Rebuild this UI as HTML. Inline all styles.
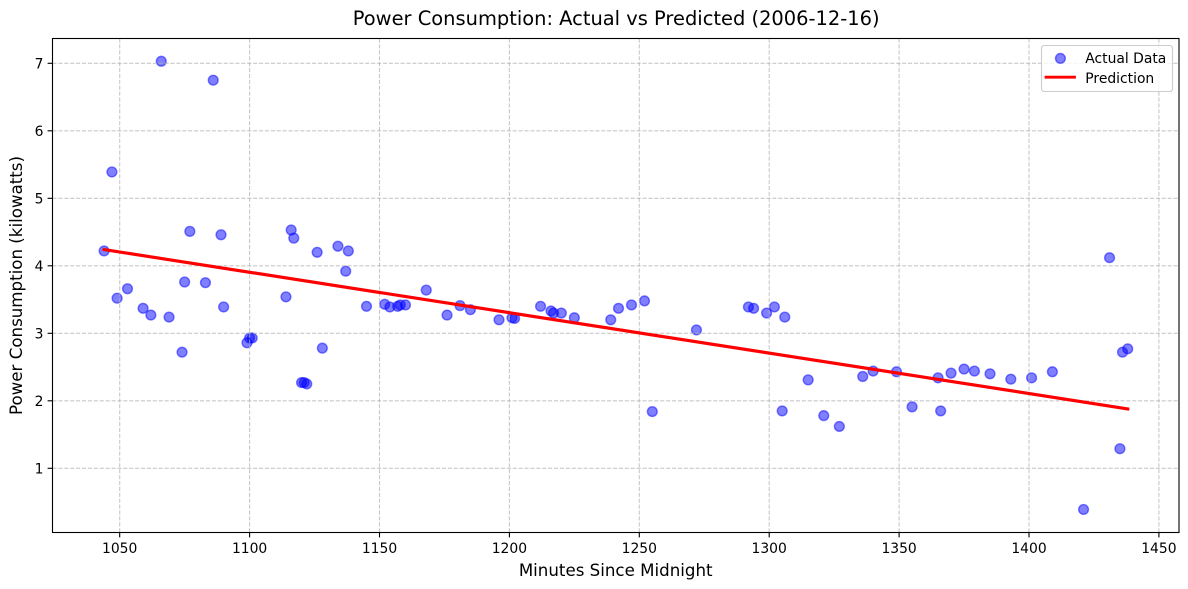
<!DOCTYPE html>
<html>
<head>
<meta charset="utf-8">
<title>Power Consumption: Actual vs Predicted</title>
<style>
html,body{margin:0;padding:0;background:#fff;width:1188px;height:589px;overflow:hidden}
svg{display:block}
text{font-family:"DejaVu Sans","Liberation Sans",sans-serif;fill:#000}
</style>
</head>
<body>
<svg id="chart" xmlns="http://www.w3.org/2000/svg" width="1188" height="589" viewBox="0 0 1188 589"></svg>
<script>
const actualMinutes = [1044,1047,1049,1053,1059,1062,1066,1069,1074,1075,1077,1083,1086,1089,1090,1099,1100,1101,1114,1116,1117,1120,1121,1122,1126,1128,1134,1137,1138,1145,1152,1154,1157,1158,1160,1168,1176,1181,1185,1196,1201,1202,1212,1216,1217,1220,1225,1239,1242,1247,1252,1255,1272,1292,1294,1299,1302,1305,1306,1315,1321,1327,1336,1340,1349,1355,1365,1366,1370,1375,1379,1385,1393,1401,1409,1421,1431,1435,1436,1438];
const actualPower = [4.22,5.39,3.52,3.66,3.37,3.27,7.03,3.24,2.72,3.76,4.51,3.75,6.75,4.46,3.39,2.86,2.93,2.93,3.54,4.53,4.41,2.27,2.27,2.25,4.20,2.78,4.29,3.92,4.22,3.40,3.43,3.39,3.40,3.42,3.42,3.64,3.27,3.41,3.35,3.20,3.23,3.22,3.40,3.33,3.30,3.30,3.23,3.20,3.37,3.42,3.48,1.84,3.05,3.39,3.37,3.30,3.39,1.85,3.24,2.31,1.78,1.62,2.36,2.44,2.43,1.91,2.34,1.85,2.41,2.47,2.44,2.40,2.32,2.34,2.43,0.39,4.12,1.29,2.72,2.77];
const predictionMinutes = [1044,1438];
const predictionPower = [4.24,1.88];
const xTicks = [1050,1100,1150,1200,1250,1300,1350,1400,1450];
const yTicks = [1,2,3,4,5,6,7];
const legendLabels = ["Actual Data","Prediction"];

const NS = "http://www.w3.org/2000/svg";
const svg = document.getElementById("chart");
const plot = {left:52.5, right:1179, top:38.5, bottom:532.5};
function xScale(v){ return 119.7 + (v - 1050) * 2.598; }
function yScale(v){ return 468.3 - (v - 1) * 67.5; }
function make(tag, attrs, parent){
  const el = document.createElementNS(NS, tag);
  for (const k in attrs) el.setAttribute(k, attrs[k]);
  (parent || svg).appendChild(el);
  return el;
}

/* scatter */
const scatterGroup = make("g", {});


actualMinutes.forEach(function(m, i){
  const c = make("circle", {cx:xScale(m), cy:yScale(actualPower[i]), r:4.9, fill:"#0000ff", "fill-opacity":0.5, stroke:"#0000ff", "stroke-opacity":0.5, "stroke-width":1.39}, scatterGroup);
  
  
});

/* grid */
const gridGroup = make("g", {stroke:"#b0b0b0", "stroke-opacity":0.7, "stroke-width":1.1, "stroke-dasharray":"4.1 1.8", fill:"none"});


xTicks.forEach(function(t){
  const l = make("line", {x1:xScale(t), x2:xScale(t), y1:plot.top, y2:plot.bottom}, gridGroup);
  
  
});
yTicks.forEach(function(t){
  const l = make("line", {x1:plot.left, x2:plot.right, y1:yScale(t), y2:yScale(t)}, gridGroup);
  
  
});

/* prediction */
const predPoints = predictionMinutes.map(function(m, i){ return xScale(m) + "," + yScale(predictionPower[i]); }).join(" ");
const predLine = make("polyline", {points:predPoints, fill:"none", stroke:"#ff0000", "stroke-width":3.2, "stroke-linecap":"square"});



/* frame */
const frame = make("rect", {x:plot.left, y:plot.top, width:plot.right-plot.left, height:plot.bottom-plot.top, fill:"none", stroke:"#000", "stroke-width":1.1});



/* ticks and tick labels */
xTicks.forEach(function(t){
  const tick = make("line", {x1:xScale(t), x2:xScale(t), y1:plot.bottom, y2:plot.bottom+4.9, stroke:"#000", "stroke-width":1.1});
  
  
  const lab = make("text", {x:xScale(t), y:553, "text-anchor":"middle", "font-size":13.89});
  lab.textContent = t;
  
  
});
yTicks.forEach(function(t){
  const tick = make("line", {x1:plot.left-4.9, x2:plot.left, y1:yScale(t), y2:yScale(t), stroke:"#000", "stroke-width":1.1});
  
  
  const lab = make("text", {x:43.5, y:yScale(t)+5.2, "text-anchor":"end", "font-size":13.89});
  lab.textContent = t;
  
  
});

/* titles */
const title = make("text", {x:616.2, y:25, "text-anchor":"middle", "font-size":19.44});
title.textContent = "Power Consumption: Actual vs Predicted (2006-12-16)";



const xTitle = make("text", {x:615.7, y:576, "text-anchor":"middle", "font-size":16.67});
xTitle.textContent = "Minutes Since Midnight";



const yTitle = make("text", {x:0, y:0, "text-anchor":"middle", "font-size":16.67, transform:"translate(22,285.5) rotate(-90)"});
yTitle.textContent = "Power Consumption (kilowatts)";



/* legend */
const legend = make("g", {});


const legendBox = make("rect", {x:1041.5, y:45.5, width:131, height:46, rx:2.8, fill:"#fff", "fill-opacity":0.8, stroke:"#cccccc", "stroke-width":1.1}, legend);


const legendDot = make("circle", {cx:1060.4, cy:58.4, r:4.9, fill:"#0000ff", "fill-opacity":0.5, stroke:"#0000ff", "stroke-opacity":0.5, "stroke-width":1.39}, legend);


const legendLine = make("line", {x1:1046, x2:1074.5, y1:77.2, y2:77.2, stroke:"#ff0000", "stroke-width":2.78, "stroke-linecap":"square"}, legend);


const legendText1 = make("text", {x:1085.3, y:62.8, "font-size":13.89}, legend);
legendText1.textContent = legendLabels[0];


const legendText2 = make("text", {x:1085.3, y:83, "font-size":13.89}, legend);
legendText2.textContent = legendLabels[1];


</script>
</body>
</html>
